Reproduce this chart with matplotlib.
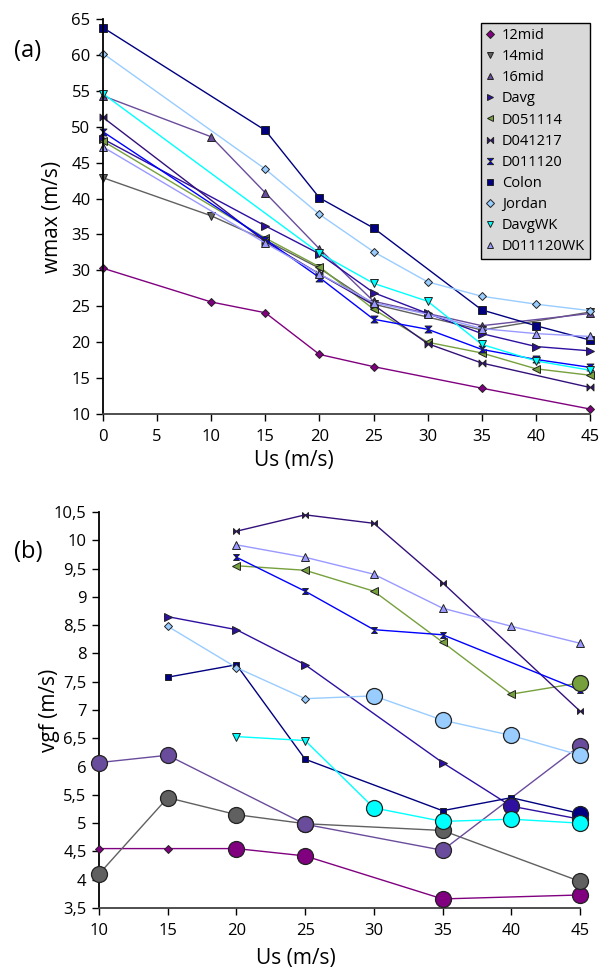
import matplotlib
matplotlib.use("Agg")
import matplotlib.pyplot as plt
from matplotlib.path import Path
from matplotlib.ticker import FuncFormatter

plt.rcParams['font.family'] = ['Open Sans', 'DejaVu Sans']

# ---------------- data ----------------
names = ["12mid", "14mid", "16mid", "Davg", "D051114", "D041217", "D011120",
         "Colon", "Jordan", "DavgWK", "D011120WK"]

# panel (a): wmax vs Us
a_x = {
    "12mid":     [0, 10, 15, 20, 25, 35, 45],
    "14mid":     [0, 10, 15, 20, 25, 35, 45],
    "16mid":     [0, 10, 15, 20, 25, 35, 45],
    "Davg":      [0, 15, 20, 25, 30, 35, 40, 45],
    "D051114":   [0, 15, 20, 25, 30, 35, 40, 45],
    "D041217":   [0, 15, 20, 25, 30, 35, 45],
    "D011120":   [0, 15, 20, 25, 30, 35, 40, 45],
    "Colon":     [0, 15, 20, 25, 35, 40, 45],
    "Jordan":    [0, 15, 20, 25, 30, 35, 40, 45],
    "DavgWK":    [0, 20, 25, 30, 35, 40, 45],
    "D011120WK": [0, 15, 20, 25, 30, 35, 40, 45],
}
a_y = {
    "12mid":     [30.3, 25.6, 24.1, 18.3, 16.6, 13.6, 10.7],
    "14mid":     [42.9, 37.6, 34.2, 30.3, 25.3, 21.7, 24.2],
    "16mid":     [54.3, 48.6, 40.8, 33.0, 25.7, 22.3, 24.0],
    "Davg":      [48.3, 36.2, 32.3, 26.9, 24.0, 21.2, 19.4, 18.8],
    "D051114":   [48.0, 34.5, 30.5, 24.6, 20.0, 18.5, 16.3, 15.4],
    "D041217":   [51.3, 34.0, 29.5, 25.2, 19.8, 17.1, 13.7],
    "D011120":   [49.3, 34.3, 29.0, 23.2, 21.8, 19.0, 17.6, 16.5],
    "Colon":     [63.8, 49.5, 40.1, 35.9, 24.5, 22.3, 20.3],
    "Jordan":    [60.2, 44.1, 37.8, 32.6, 28.4, 26.4, 25.3, 24.4],
    "DavgWK":    [54.6, 32.4, 28.2, 25.7, 19.7, 17.4, 16.1],
    "D011120WK": [47.2, 33.8, 29.5, 25.5, 23.9, 21.9, 21.2, 20.8],
}

# panel (b): vgf vs Us ; big = points drawn as large circles
b_x = {
    "12mid":     [10, 15, 20, 25, 35, 45],
    "14mid":     [10, 15, 20, 25, 35, 45],
    "16mid":     [10, 15, 25, 35, 45],
    "Davg":      [15, 20, 25, 35, 40, 45],
    "D051114":   [20, 25, 30, 35, 40, 45],
    "D041217":   [20, 25, 30, 35, 45],
    "D011120":   [20, 25, 30, 35, 45],
    "Colon":     [15, 20, 25, 35, 40, 45],
    "Jordan":    [15, 20, 25, 30, 35, 40, 45],
    "DavgWK":    [20, 25, 30, 35, 40, 45],
    "D011120WK": [20, 25, 30, 35, 40, 45],
}
b_y = {
    "12mid":     [4.55, 4.55, 4.55, 4.42, 3.66, 3.73],
    "14mid":     [4.10, 5.45, 5.15, 4.99, 4.87, 3.97],
    "16mid":     [6.07, 6.20, 4.98, 4.52, 6.37],
    "Davg":      [8.65, 8.42, 7.80, 6.07, 5.30, 5.07],
    "D051114":   [9.55, 9.47, 9.10, 8.20, 7.28, 7.48],
    "D041217":   [10.16, 10.45, 10.30, 9.25, 6.98],
    "D011120":   [9.70, 9.10, 8.42, 8.33, 7.35],
    "Colon":     [7.58, 7.80, 6.13, 5.22, 5.45, 5.17],
    "Jordan":    [8.48, 7.75, 7.20, 7.25, 6.82, 6.55, 6.20],
    "DavgWK":    [6.53, 6.46, 5.27, 5.03, 5.07, 5.00],
    "D011120WK": [9.92, 9.70, 9.40, 8.80, 8.48, 8.18],
}
b_big = {
    "12mid":     [20, 25, 35, 45],
    "14mid":     [10, 15, 20, 25, 35, 45],
    "16mid":     [10, 15, 25, 35, 45],
    "Davg":      [40, 45],
    "D051114":   [45],
    "D041217":   [],
    "D011120":   [],
    "Colon":     [45],
    "Jordan":    [30, 35, 40, 45],
    "DavgWK":    [30, 35, 40, 45],
    "D011120WK": [],
}

# ---------------- styles ----------------
bowtie = Path([(-1, -1), (0, 0), (-1, 1), (-1, -1), (1, -1), (0, 0), (1, 1), (1, -1)],
              [Path.MOVETO, Path.LINETO, Path.LINETO, Path.CLOSEPOLY,
               Path.MOVETO, Path.LINETO, Path.LINETO, Path.CLOSEPOLY])
hourglass = Path([(-1, 1), (1, 1), (0, 0), (-1, 1), (-1, -1), (1, -1), (0, 0), (-1, -1)],
                 [Path.MOVETO, Path.LINETO, Path.LINETO, Path.CLOSEPOLY,
                  Path.MOVETO, Path.LINETO, Path.LINETO, Path.CLOSEPOLY])

colors = {
    "12mid": "#800080", "14mid": "#606060", "16mid": "#6a4c9c", "Davg": "#2e0fa0",
    "D051114": "#76a03c", "D041217": "#33107a", "D011120": "#0000ff",
    "Colon": "#000080", "Jordan": "#99ccff", "DavgWK": "#00ffff", "D011120WK": "#9999ff",
}
markers = {
    "12mid": "D", "14mid": "v", "16mid": "^", "Davg": ">", "D051114": "<",
    "D041217": bowtie, "D011120": hourglass, "Colon": "s", "Jordan": "D",
    "DavgWK": "v", "D011120WK": "^",
}
msizes = {
    "12mid": 4.3, "14mid": 6, "16mid": 6, "Davg": 6, "D051114": 6,
    "D041217": 5, "D011120": 5, "Colon": 5.5, "Jordan": 4.3,
    "DavgWK": 6, "D011120WK": 6,
}

fig = plt.figure(figsize=(6.07, 9.71), dpi=100)
axA = fig.add_axes([0.1697, 0.5736, 0.8023, 0.4068])
axB = fig.add_axes([0.1631, 0.0649, 0.7924, 0.4078])

for ax in (axA, axB):
    for s in ("top", "right"):
        ax.spines[s].set_visible(False)
    ax.spines["left"].set_color("black")
    ax.spines["bottom"].set_color("#404040")
    ax.spines["left"].set_linewidth(1.3)
    ax.spines["bottom"].set_linewidth(1.3)
    ax.tick_params(direction="out", length=5, width=1, labelsize=12, pad=4)
    ax.tick_params(axis="x", pad=6)

# panel (a)
for n in names:
    axA.plot(a_x[n], a_y[n], color=colors[n], lw=1.0, marker=markers[n],
             ms=msizes[n], mfc=colors[n], mec="#222222", mew=0.7, label=n,
             clip_on=False)
axA.set_xlim(0, 45)
axA.set_ylim(10, 65)
axA.set_xticks(range(0, 46, 5))
axA.set_yticks(range(10, 66, 5))
axA.set_xlabel("Us (m/s)", fontsize=15)
axA.set_ylabel("wmax (m/s)", fontsize=15)
axA.xaxis.set_label_coords(0.392, -0.091)
axA.yaxis.set_label_coords(-0.082, 0.5)
leg = axA.legend(loc="upper right", bbox_to_anchor=(1.0, 0.99), fontsize=10.5,
                 frameon=True, fancybox=False, facecolor="#d9d9d9",
                 edgecolor="black", handlelength=0.6, handletextpad=0.5,
                 labelspacing=0.42, borderpad=0.35, borderaxespad=0.0)
leg.get_frame().set_linewidth(1.0)
leg.get_frame().set_alpha(1)
for h in leg.legend_handles:
    h.set_linestyle("None")
    h.set_markersize(4.5)
fig.text(0.046, 0.947, "(a)", fontsize=17, va="center", ha="center")

# panel (b)
for n in names:
    xs, ys = b_x[n], b_y[n]
    axB.plot(xs, ys, color=colors[n], lw=1.0, zorder=2, clip_on=False)
    sx = [x for x in xs if x not in b_big[n]]
    sy = [y for x, y in zip(xs, ys) if x not in b_big[n]]
    axB.plot(sx, sy, ls="None", marker=markers[n], ms=msizes[n] * 0.85,
             mfc=colors[n], mec="#222222", mew=0.7, zorder=3, clip_on=False)
    bx = [x for x in xs if x in b_big[n]]
    by = [y for x, y in zip(xs, ys) if x in b_big[n]]
    axB.plot(bx, by, ls="None", marker="o", ms=11.5, mfc=colors[n],
             mec="#222222", mew=0.9, zorder=4, clip_on=False)
axB.set_xlim(10, 45)
axB.set_ylim(3.5, 10.5)
axB.set_xticks(range(10, 46, 5))
axB.set_yticks([3.5 + 0.5 * i for i in range(15)])
axB.yaxis.set_major_formatter(FuncFormatter(
    lambda v, p: ("%g" % v).replace(".", ",")))
axB.set_xlabel("Us (m/s)", fontsize=15)
axB.set_ylabel("vgf (m/s)", fontsize=15)
axB.xaxis.set_label_coords(0.41, -0.101)
axB.yaxis.set_label_coords(-0.081, 0.5)
fig.text(0.046, 0.432, "(b)", fontsize=17, va="center", ha="center")

fig.savefig("out.png", dpi=100)
